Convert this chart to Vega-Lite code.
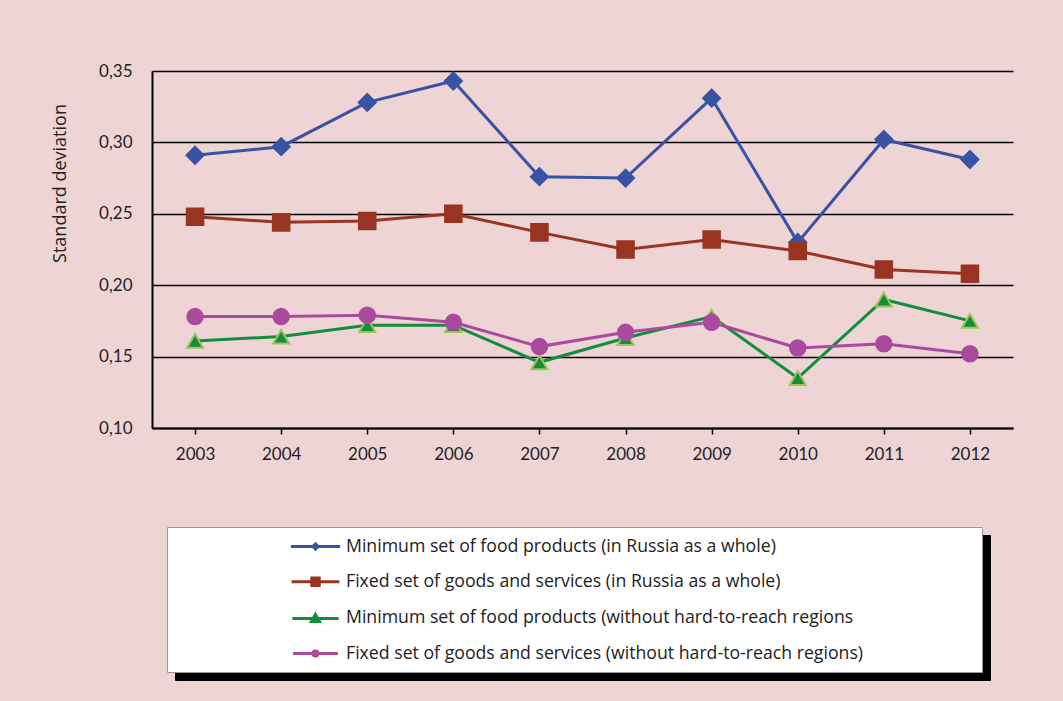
{
  "$schema": "https://vega.github.io/schema/vega-lite/v6.json",
  "width": 861,
  "height": 357,
  "autosize": {"type": "none"},
  "padding": {"left": 152, "top": 71, "right": 50, "bottom": 273},
  "background": "#efd4d5",
  "config": {"view": {"stroke": null}, "font": "Lato"},
  "data": {"values": [
    {"year": 2003, "series": "Minimum set of food products (in Russia as a whole)", "value": 0.291},
    {"year": 2004, "series": "Minimum set of food products (in Russia as a whole)", "value": 0.297},
    {"year": 2005, "series": "Minimum set of food products (in Russia as a whole)", "value": 0.328},
    {"year": 2006, "series": "Minimum set of food products (in Russia as a whole)", "value": 0.343},
    {"year": 2007, "series": "Minimum set of food products (in Russia as a whole)", "value": 0.276},
    {"year": 2008, "series": "Minimum set of food products (in Russia as a whole)", "value": 0.275},
    {"year": 2009, "series": "Minimum set of food products (in Russia as a whole)", "value": 0.331},
    {"year": 2010, "series": "Minimum set of food products (in Russia as a whole)", "value": 0.230},
    {"year": 2011, "series": "Minimum set of food products (in Russia as a whole)", "value": 0.302},
    {"year": 2012, "series": "Minimum set of food products (in Russia as a whole)", "value": 0.288},
    {"year": 2003, "series": "Fixed set of goods and services (in Russia as a whole)", "value": 0.248},
    {"year": 2004, "series": "Fixed set of goods and services (in Russia as a whole)", "value": 0.244},
    {"year": 2005, "series": "Fixed set of goods and services (in Russia as a whole)", "value": 0.245},
    {"year": 2006, "series": "Fixed set of goods and services (in Russia as a whole)", "value": 0.250},
    {"year": 2007, "series": "Fixed set of goods and services (in Russia as a whole)", "value": 0.237},
    {"year": 2008, "series": "Fixed set of goods and services (in Russia as a whole)", "value": 0.225},
    {"year": 2009, "series": "Fixed set of goods and services (in Russia as a whole)", "value": 0.232},
    {"year": 2010, "series": "Fixed set of goods and services (in Russia as a whole)", "value": 0.224},
    {"year": 2011, "series": "Fixed set of goods and services (in Russia as a whole)", "value": 0.211},
    {"year": 2012, "series": "Fixed set of goods and services (in Russia as a whole)", "value": 0.208},
    {"year": 2003, "series": "Minimum set of food products (without hard-to-reach regions", "value": 0.161},
    {"year": 2004, "series": "Minimum set of food products (without hard-to-reach regions", "value": 0.164},
    {"year": 2005, "series": "Minimum set of food products (without hard-to-reach regions", "value": 0.172},
    {"year": 2006, "series": "Minimum set of food products (without hard-to-reach regions", "value": 0.172},
    {"year": 2007, "series": "Minimum set of food products (without hard-to-reach regions", "value": 0.146},
    {"year": 2008, "series": "Minimum set of food products (without hard-to-reach regions", "value": 0.163},
    {"year": 2009, "series": "Minimum set of food products (without hard-to-reach regions", "value": 0.178},
    {"year": 2010, "series": "Minimum set of food products (without hard-to-reach regions", "value": 0.135},
    {"year": 2011, "series": "Minimum set of food products (without hard-to-reach regions", "value": 0.190},
    {"year": 2012, "series": "Minimum set of food products (without hard-to-reach regions", "value": 0.175},
    {"year": 2003, "series": "Fixed set of goods and services (without hard-to-reach regions)", "value": 0.178},
    {"year": 2004, "series": "Fixed set of goods and services (without hard-to-reach regions)", "value": 0.178},
    {"year": 2005, "series": "Fixed set of goods and services (without hard-to-reach regions)", "value": 0.179},
    {"year": 2006, "series": "Fixed set of goods and services (without hard-to-reach regions)", "value": 0.174},
    {"year": 2007, "series": "Fixed set of goods and services (without hard-to-reach regions)", "value": 0.157},
    {"year": 2008, "series": "Fixed set of goods and services (without hard-to-reach regions)", "value": 0.167},
    {"year": 2009, "series": "Fixed set of goods and services (without hard-to-reach regions)", "value": 0.174},
    {"year": 2010, "series": "Fixed set of goods and services (without hard-to-reach regions)", "value": 0.156},
    {"year": 2011, "series": "Fixed set of goods and services (without hard-to-reach regions)", "value": 0.159},
    {"year": 2012, "series": "Fixed set of goods and services (without hard-to-reach regions)", "value": 0.152}
  ]},
  "encoding": {
    "x": {
      "field": "year", "type": "ordinal",
      "scale": {"type": "point", "padding": 0.5},
      "axis": {"title": null, "labelAngle": 0, "labelFontSize": 17, "labelColor": "#222", "labelPadding": 12,
               "tickSize": 6, "tickColor": "#000", "tickWidth": 1.5, "domainColor": "#000", "domainWidth": 2, "grid": false}
    },
    "y": {
      "field": "value", "type": "quantitative",
      "scale": {"domain": [0.1, 0.35], "nice": false, "zero": false},
      "axis": {"title": "Standard deviation", "titleAngle": -90, "titleX": -92, "titleY": 112, "titleAlign": "center",
               "titleBaseline": "middle", "titleFont": "Open Sans", "titleFontSize": 18, "titleFontWeight": "normal", "titleColor": "#222",
               "values": [0.1, 0.15, 0.2, 0.25, 0.3, 0.35],
               "labelExpr": "replace(format(datum.value, '.2f'), '.', ',')",
               "labelFontSize": 17, "labelColor": "#222", "labelPadding": 20, "ticks": false,
               "grid": true, "gridColor": "#000", "gridWidth": 1.5, "gridOpacity": 1,
               "domainColor": "#000", "domainWidth": 2}
    },
    "color": {
      "field": "series", "type": "nominal",
      "scale": {
        "domain": [
          "Minimum set of food products (in Russia as a whole)",
          "Fixed set of goods and services (in Russia as a whole)",
          "Minimum set of food products (without hard-to-reach regions",
          "Fixed set of goods and services (without hard-to-reach regions)"
        ],
        "range": ["#3953a4", "#9a3422", "#138c3d", "#a94a9e"]
      },
      "legend": {
        "orient": "none", "legendX": 15, "legendY": 456, "zindex": 1,
        "title": " ", "titleOrient": "right", "titlePadding": 110,
        "fillColor": "#ffffff", "strokeColor": "#999999", "padding": 9,
        "symbolOffset": 129, "symbolSize": 300, "symbolStrokeWidth": 3,
        "labelFont": "Open Sans", "labelFontSize": 17.7, "labelColor": "#222", "labelOffset": 20, "labelLimit": 700, "rowPadding": 15.7,
        "encode": {
          "symbols": {
            "update": {
              "shape": {"signal": "['M-2.89,0H2.89M-0.3,0L0,-0.3L0.3,0L0,0.3Z', 'M-2.89,0H2.89M-0.45,-0.45H0.45V0.45H-0.45Z', 'M-2.89,0H2.89M0,-0.5L0.5,0.38H-0.5Z', 'M-2.89,0H2.89M-0.32,0A0.32,0.32,0,1,1,0.32,0A0.32,0.32,0,1,1,-0.32,0Z'][indexof(domain('color'), datum.value)]"},
              "fill": {"signal": "scale('color', datum.value)"},
              "stroke": {"signal": "scale('color', datum.value)"},
              "opacity": {"value": 1}
            }
          }
        }
      }
    }
  },
  "layer": [
    {
      "transform": [{"calculate": "datum.series", "as": "s2"}],
      "mark": {"type": "line", "opacity": 0},
      "encoding": {
        "strokeDash": {
          "field": "s2", "type": "nominal",
          "legend": {
            "orient": "none", "legendX": 23, "legendY": 464, "zindex": 0,
            "title": " ", "titleOrient": "right", "titlePadding": 110,
            "fillColor": "#000000", "strokeColor": "#000000", "padding": 9,
            "symbolOffset": 129, "symbolSize": 300, "symbolStrokeWidth": 3,
            "labelFont": "Open Sans", "labelFontSize": 17.7, "labelOffset": 20, "labelLimit": 700, "rowPadding": 15.7,
            "labelOpacity": 0, "symbolOpacity": 0,
            "encode": {
              "symbols": {
                "update": {
                  "shape": {"signal": "['M-2.89,0H2.89M-0.3,0L0,-0.3L0.3,0L0,0.3Z', 'M-2.89,0H2.89M-0.45,-0.45H0.45V0.45H-0.45Z', 'M-2.89,0H2.89M0,-0.5L0.5,0.38H-0.5Z', 'M-2.89,0H2.89M-0.32,0A0.32,0.32,0,1,1,0.32,0A0.32,0.32,0,1,1,-0.32,0Z'][indexof(domain('color'), datum.value)]"},
                  "opacity": {"value": 0}
                }
              }
            }
          }
        }
      }
    },
    {"mark": {"type": "line", "strokeWidth": 3}},
    {
      "mark": {"type": "point", "filled": true, "opacity": 1, "strokeWidth": 2},
      "encoding": {
        "shape": {"field": "series", "type": "nominal",
                  "scale": {"range": ["square", "circle", "diamond", "triangle-up"]}, "legend": null},
        "size": {"field": "series", "type": "ordinal",
                 "scale": {"domain": [
                   "Minimum set of food products (in Russia as a whole)",
                   "Fixed set of goods and services (in Russia as a whole)",
                   "Minimum set of food products (without hard-to-reach regions",
                   "Fixed set of goods and services (without hard-to-reach regions)"
                 ], "range": [290, 240, 300, 260]}, "legend": null},
        "stroke": {"field": "series", "type": "nominal",
                   "scale": {"domain": [
                     "Minimum set of food products (in Russia as a whole)",
                     "Fixed set of goods and services (in Russia as a whole)",
                     "Minimum set of food products (without hard-to-reach regions",
                     "Fixed set of goods and services (without hard-to-reach regions)"
                   ], "range": ["#3953a4", "#9a3422", "#9dc35a", "#a94a9e"]}, "legend": null}
      }
    }
  ]
}
